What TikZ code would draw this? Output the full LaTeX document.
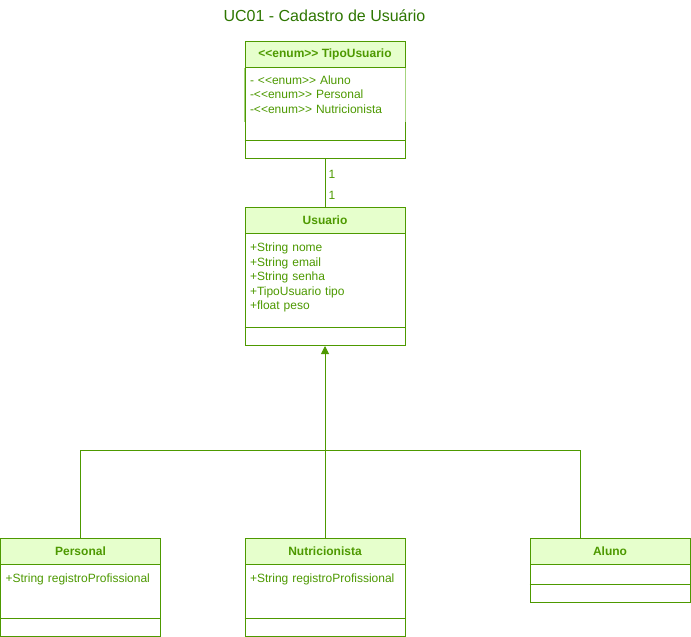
\documentclass[tikz,border=0pt]{standalone}
\usepackage{fontspec}
\setmainfont{Liberation Sans}
\usetikzlibrary{arrows.meta}
\definecolor{umlgreen}{HTML}{4D9900}
\definecolor{umlhead}{HTML}{E6FFCC}
\definecolor{umlpale}{HTML}{A6D47F}
\definecolor{titlegreen}{HTML}{2D7600}
\newcommand{\enumtag}{<\kern0pt<enum>\kern0pt>}
\begin{document}
\begin{tikzpicture}[x=1pt,y=-1pt,line width=1pt,font=\fontsize{12}{14.6}\selectfont,
	classbox/.style={draw=umlgreen,fill=white,minimum width=160pt,anchor=north,inner sep=0pt},
	classhead/.style={draw=umlgreen,fill=umlhead,text=umlgreen,font=\fontsize{12}{14.6}\selectfont\bfseries,minimum width=160pt,minimum height=26pt,anchor=north,inner sep=0pt},
	attrs/.style={text=umlgreen,anchor=base west,text width=152pt,align=left,inner sep=0pt},
	mult/.style={text=umlgreen,anchor=base west,inner sep=0pt},
	inherit/.style={draw=umlgreen,-{Triangle[length=8pt,width=8pt]}}]
	\useasboundingbox (0,0) rectangle (691,637);
	\node[text=titlegreen,font=\fontsize{16}{19}\selectfont,anchor=base] (title) at (324.5,21.5) {UC01 - Cadastro de Usuário};
	% enum
	\node[classbox,minimum height=117pt] (tipo) at (325,41) {};
	\node[classhead] (tipohead) at (tipo.north) {\enumtag{} TipoUsuario};
	\draw[umlpale] (tipohead.south west) -- ++(0,54) (tipohead.south east) -- ++(0,54);
	\draw[umlgreen] ([yshift=19pt]tipo.south west) -- ([yshift=19pt]tipo.south east);
	\node[attrs] (tipoattr) at ([shift={(5,16)}]tipohead.south west) {- \enumtag{} Aluno\\-\enumtag{} Personal\\-\enumtag{} Nutricionista};
	% usuario
	\node[classbox,minimum height=138pt] (usu) at (325,207) {};
	\node[classhead] (usuhead) at (usu.north) {Usuario};
	\draw[umlgreen] ([yshift=19pt]usu.south west) -- ([yshift=19pt]usu.south east);
	\node[attrs] (usuattr) at ([shift={(5,17.5)}]usuhead.south west) {+String nome\\+String email\\+String senha\\+TipoUsuario tipo\\+float peso};
	\draw[umlgreen] (tipo.south) -- (usu.north);
	\node[mult] (multtipo) at ([shift={(3,19)}]tipo.south) {1};
	\node[mult] (multusu) at ([shift={(3,-8)}]usu.north) {1};
	% subclasses
	\node[classbox,minimum height=98pt] (pers) at (80.5,538) {};
	\node[classhead] (pershead) at (pers.north) {Personal};
	\draw[umlgreen] ([yshift=19pt]pers.south west) -- ([yshift=19pt]pers.south east);
	\node[attrs] (persattr) at ([shift={(5,17.8)}]pershead.south west) {+String registroProfissional};
	\node[classbox,minimum height=98pt] (nutri) at (325,538) {};
	\node[classhead] (nutrihead) at (nutri.north) {Nutricionista};
	\draw[umlgreen] ([yshift=19pt]nutri.south west) -- ([yshift=19pt]nutri.south east);
	\node[attrs] (nutriattr) at ([shift={(5,17.8)}]nutrihead.south west) {+String registroProfissional};
	\node[classbox,minimum height=64pt] (aluno) at (610,538) {};
	\node[classhead] (alunohead) at (aluno.north) {Aluno};
	\draw[umlgreen] ([yshift=19pt]aluno.south west) -- ([yshift=19pt]aluno.south east);
	% generalisation
	\coordinate (join) at (325,450);
	\draw[umlgreen] (pers.north) |- (join);
	\draw[umlgreen] ([xshift=-30pt]aluno.north) |- (join);
	\draw[umlgreen] (nutri.north) -- (join);
	\draw[inherit] (join) -- (usu.south);
\end{tikzpicture}
\end{document}
